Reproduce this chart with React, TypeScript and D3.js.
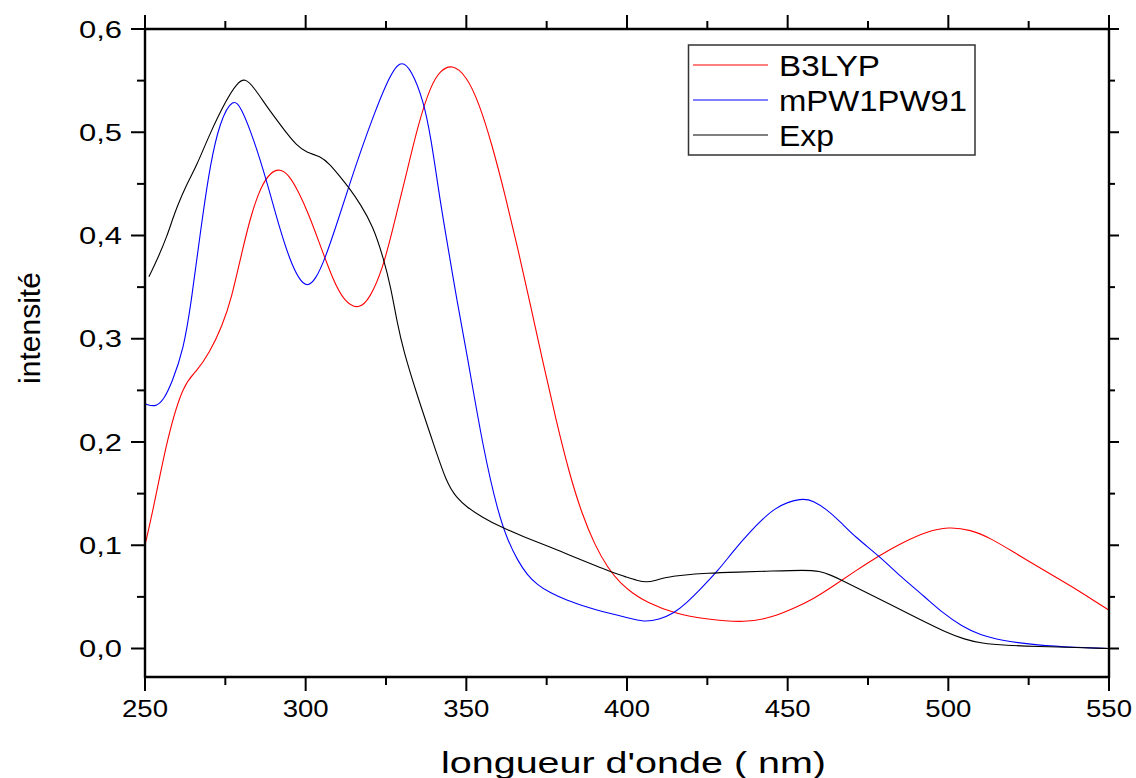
import React from "react";
import * as d3 from "d3";

const xTicks = [250, 300, 350, 400, 450, 500, 550];
const xMinorTicks = [275, 325, 375, 425, 475, 525];
const yTicks = [0, 0.1, 0.2, 0.3, 0.4, 0.5, 0.6];
const yTickLabels = ["0,0", "0,1", "0,2", "0,3", "0,4", "0,5", "0,6"];
const yMinorTicks = [0.05, 0.15, 0.25, 0.35, 0.45, 0.55];

const seriesNames = ["B3LYP", "mPW1PW91", "Exp"];
const seriesColors = ["#ff0000", "#0000ff", "#000000"];

const b3lyp: [number, number][] = [
  [250, 0.1], [253, 0.141], [257, 0.205], [262, 0.257], [266, 0.268], [270, 0.286],
  [274, 0.312], [277, 0.34], [280, 0.382], [283, 0.42], [286, 0.447], [289, 0.461],
  [292, 0.465], [295, 0.458], [298, 0.441], [301, 0.42], [304, 0.395], [308.5, 0.357],
  [312, 0.336], [316.5, 0.328], [320, 0.339], [324, 0.368], [327, 0.405], [331, 0.455],
  [335, 0.508], [339, 0.546], [342, 0.56], [345.5, 0.566], [350, 0.555], [354, 0.528],
  [358, 0.488], [362, 0.44], [366, 0.388], [370, 0.332], [374, 0.275], [378, 0.22],
  [382, 0.17], [386, 0.13], [390, 0.1], [394, 0.078], [398, 0.063], [402, 0.053],
  [406, 0.045], [414.5, 0.034], [425, 0.028], [437, 0.025], [445, 0.03], [452, 0.039],
  [458, 0.048], [464, 0.06], [471, 0.075], [479, 0.091], [486, 0.103], [493, 0.113],
  [500, 0.118], [507, 0.115], [513, 0.107], [520, 0.094], [528, 0.079], [534, 0.068],
  [540, 0.057], [545, 0.047], [550, 0.037],
];

const mpw1pw91: [number, number][] = [
  [250, 0.237], [253.5, 0.2335], [256, 0.242], [258.3, 0.257], [262, 0.289], [264.5, 0.338],
  [266.5, 0.386], [268, 0.42], [270.2, 0.467], [273.3, 0.511], [277.5, 0.534], [280, 0.523],
  [283, 0.5], [286, 0.472], [289, 0.44], [292, 0.406], [295, 0.377], [298, 0.357],
  [300.5, 0.35], [303, 0.357], [306, 0.377], [310, 0.414], [313.8, 0.451], [317.5, 0.485],
  [321, 0.515], [325, 0.547], [329.4, 0.572], [333, 0.56], [336.6, 0.531], [339, 0.495],
  [341.8, 0.434], [344.5, 0.385], [347, 0.338], [350, 0.289], [355.3, 0.192], [360, 0.13],
  [363, 0.104], [366, 0.085], [369, 0.071], [372, 0.062], [376, 0.054], [381, 0.047],
  [387.7, 0.04], [392, 0.036], [400, 0.03], [405.2, 0.0255], [410, 0.028], [414.5, 0.034],
  [418.5, 0.044], [422.7, 0.057], [428.5, 0.076], [433, 0.094], [438, 0.112], [446, 0.138],
  [454.5, 0.146], [458, 0.143], [462, 0.135], [466, 0.124], [471, 0.108], [478.7, 0.089],
  [485, 0.07], [492.7, 0.05], [498, 0.035], [504.4, 0.021], [510, 0.013], [516, 0.008],
  [527.8, 0.003], [540, 0.001], [550, 0.0],
];

const exp: [number, number][] = [
  [251.2, 0.36], [254, 0.378], [256.8, 0.399], [258.5, 0.415], [260, 0.428], [263, 0.45],
  [266, 0.467], [270.2, 0.499], [275.4, 0.532], [278.5, 0.547], [281.1, 0.553], [284, 0.543],
  [287.9, 0.525], [291, 0.512], [294.1, 0.499], [297, 0.488], [300.3, 0.48], [304.5, 0.477],
  [307.5, 0.469], [310.7, 0.457], [313.8, 0.445], [316.9, 0.431], [321, 0.409], [324.2, 0.378],
  [326.5, 0.35], [328.5, 0.315], [330.4, 0.289], [334.5, 0.247], [339.7, 0.199], [343.9, 0.16],
  [347, 0.146], [350.1, 0.137], [355, 0.127], [360.5, 0.118], [368, 0.108], [376, 0.0986],
  [384, 0.088], [391.6, 0.0786], [395.9, 0.073], [400, 0.069], [403, 0.066], [406.1, 0.064],
  [409, 0.066], [412, 0.069], [416.9, 0.071], [425, 0.073], [434.4, 0.074], [445, 0.075],
  [455.4, 0.076], [460, 0.075], [463.5, 0.071], [467, 0.066], [474, 0.055], [481, 0.044],
  [490, 0.03], [499.7, 0.015], [505, 0.009], [510.2, 0.005], [518, 0.003], [527.8, 0.002],
  [540, 0.001], [550, 0.0],
];

const allSeries = [b3lyp, mpw1pw91, exp];

const FONT = "'Liberation Sans', Arial, Helvetica, sans-serif";

export default function App() {
  const left = 145, right = 1109, top = 29, bottom = 677;
  const x = d3.scaleLinear().domain([250, 550]).range([left, right]);
  const y = d3.scaleLinear().domain([-0.0276, 0.6]).range([bottom, top]);
  const line = d3
    .line<[number, number]>()
    .x((d) => x(d[0]))
    .y((d) => y(d[1]))
    .curve(d3.curveBasis);

  const axisW = 2.4;
  const major = 14, minor = 8;

  return (
    <svg
      width={1136}
      height={778}
      style={{ position: "absolute", left: 0, top: 0, background: "#fff" }}
      fontFamily={FONT}
    >
      <rect x={0} y={0} width={1136} height={778} fill="#fff" />
      <defs>
        <clipPath id="plotclip">
          <rect x={left} y={top} width={right - left} height={bottom - top} />
        </clipPath>
      </defs>

      {/* curves */}
      <g clipPath="url(#plotclip)">
        {allSeries.map((s, i) => (
          <path key={i} d={line(s) || ""} fill="none" stroke={seriesColors[i]} strokeWidth={1.1} />
        ))}
      </g>

      {/* frame */}
      <g stroke="#000" strokeWidth={axisW} fill="none">
        <line x1={left} x2={right} y1={top} y2={top} />
        <line x1={left} x2={right} y1={bottom} y2={bottom} />
        <line x1={left} x2={left} y1={top - 1} y2={bottom + 1} />
        <line x1={right} x2={right} y1={top - 1} y2={bottom + 1} />
      </g>

      {/* ticks */}
      <g stroke="#000" strokeWidth={2}>
        {xTicks.map((t) => (
          <g key={"xt" + t}>
            <line x1={x(t)} x2={x(t)} y1={bottom} y2={bottom + major} />
            <line x1={x(t)} x2={x(t)} y1={top} y2={top - major} />
          </g>
        ))}
        {xMinorTicks.map((t) => (
          <g key={"xm" + t}>
            <line x1={x(t)} x2={x(t)} y1={bottom} y2={bottom + minor} />
            <line x1={x(t)} x2={x(t)} y1={top} y2={top - minor} />
          </g>
        ))}
        {yTicks.map((t) => (
          <g key={"yt" + t}>
            <line x1={left} x2={left - major} y1={y(t)} y2={y(t)} />
            <line x1={right} x2={right + major - 4} y1={y(t)} y2={y(t)} />
          </g>
        ))}
        {yMinorTicks.map((t) => (
          <g key={"ym" + t}>
            <line x1={left} x2={left - minor} y1={y(t)} y2={y(t)} />
            <line x1={right} x2={right + minor - 2} y1={y(t)} y2={y(t)} />
          </g>
        ))}
      </g>

      {/* x tick labels */}
      {xTicks.map((t) => (
        <text
          key={"xl" + t}
          x={x(t) - 23}
          y={717}
          fontSize={23}
          textLength={46}
          lengthAdjust="spacingAndGlyphs"
          fill="#000"
        >
          {t}
        </text>
      ))}

      {/* y tick labels */}
      {yTicks.map((t, i) => (
        <text
          key={"yl" + t}
          x={122 - 43}
          y={y(t) + 8.5}
          fontSize={24}
          textLength={43}
          lengthAdjust="spacingAndGlyphs"
          fill="#000"
        >
          {yTickLabels[i]}
        </text>
      ))}

      {/* axis titles */}
      <text
        x={441}
        y={773}
        fontSize={30}
        textLength={385}
        lengthAdjust="spacingAndGlyphs"
        fill="#000"
      >
        longueur d'onde ( nm)
      </text>
      <text
        transform={`translate(40, 328) rotate(-90)`}
        textAnchor="middle"
        fontSize={30}
        fill="#000"
      >
        intensité
      </text>

      {/* legend */}
      <rect x={688.5} y={45} width={286.5} height={110} fill="#fff" stroke="#333" strokeWidth={1.5} />
      {seriesNames.map((n, i) => {
        const ly = [65, 100, 135][i];
        const widths = [101, 188, 55];
        return (
          <g key={n}>
            <line x1={693} x2={768} y1={ly} y2={ly} stroke={seriesColors[i]} strokeWidth={1.2} />
            <text
              x={779}
              y={ly + 11}
              fontSize={29}
              textLength={widths[i]}
              lengthAdjust="spacingAndGlyphs"
              fill="#000"
            >
              {n}
            </text>
          </g>
        );
      })}
    </svg>
  );
}
